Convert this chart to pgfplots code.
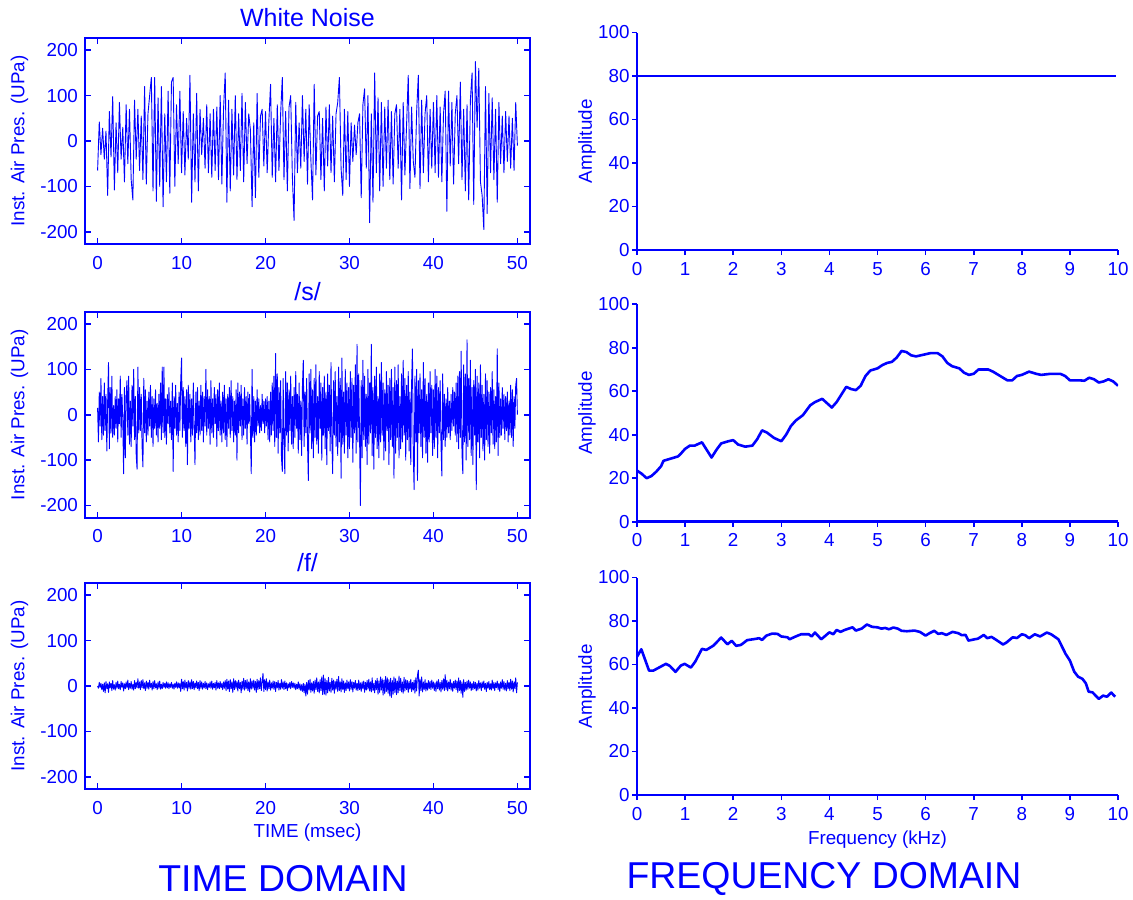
\documentclass[border=0pt]{standalone}
\usepackage{fontspec}
\setmainfont{Liberation Sans}
\usepackage{pgfplots}
\usepackage{pgfplotstable}
\pgfplotsset{compat=1.18}
\definecolor{mb}{RGB}{0,0,255}

% White noise, sampled every 0.2 ms
\pgfplotstableread[row sep=\\]{y\\
-65\\42\\-30\\28\\-40\\22\\-120\\65\\-35\\98\\
-108\\40\\-70\\85\\-40\\30\\-90\\80\\-50\\70\\
-85\\-130\\90\\-40\\70\\-65\\55\\-85\\120\\-95\\
60\\100\\140\\-110\\140\\-133\\95\\-100\\120\\-145\\
60\\-90\\110\\-115\\130\\140\\-100\\80\\-50\\110\\
-70\\65\\-75\\50\\-40\\145\\-135\\60\\-90\\105\\
-110\\70\\-30\\50\\-60\\80\\-70\\60\\-80\\70\\
-65\\75\\-85\\100\\-95\\70\\150\\-135\\90\\-110\\
70\\-75\\100\\-85\\60\\-65\\105\\-90\\85\\-50\\
60\\25\\-145\\40\\-125\\105\\-80\\55\\70\\-55\\
65\\-70\\45\\125\\-80\\50\\-90\\80\\-65\\60\\
140\\-85\\65\\-110\\75\\100\\-80\\-175\\85\\-70\\
40\\-60\\100\\-45\\70\\-95\\80\\-40\\-130\\125\\
-75\\55\\65\\-85\\50\\-110\\75\\-55\\80\\-70\\
55\\-90\\60\\85\\140\\-60\\-120\\70\\-85\\65\\
-100\\40\\-45\\35\\-30\\40\\60\\-125\\80\\115\\
-60\\100\\-180\\60\\-135\\150\\-70\\95\\-110\\85\\
-100\\75\\-60\\90\\-85\\65\\-95\\60\\80\\-60\\
70\\-130\\85\\-75\\35\\145\\-105\\75\\-45\\-80\\
65\\145\\-105\\90\\-70\\60\\100\\-90\\70\\-60\\
85\\-70\\100\\-80\\75\\-90\\60\\110\\-155\\110\\
-55\\85\\-95\\60\\100\\-50\\130\\-85\\70\\-110\\
80\\-130\\90\\150\\-140\\175\\30\\160\\-90\\-120\\
-195\\120\\-160\\105\\-70\\95\\-85\\70\\-135\\85\\
-50\\55\\-70\\65\\-45\\55\\-60\\50\\-65\\85\\
-10\\
}\wn

% /s/, sampled every 0.1 ms
\pgfplotstableread[row sep=\\]{y\\
15\\-60\\50\\-25\\80\\-55\\40\\-45\\70\\-35\\
45\\-80\\30\\115\\-75\\60\\-40\\85\\-50\\20\\
-45\\40\\-30\\55\\-60\\35\\-20\\85\\-50\\45\\
-10\\-130\\60\\-95\\40\\75\\-45\\85\\-65\\30\\
-70\\65\\-25\\100\\-55\\40\\-90\\-120\\105\\-40\\
60\\-35\\45\\-70\\-115\\80\\-40\\55\\-60\\30\\
-45\\50\\-25\\65\\-50\\40\\-70\\35\\-30\\55\\
-45\\25\\-60\\45\\-30\\70\\-55\\105\\-40\\105\\
-50\\35\\-65\\45\\-20\\60\\-40\\30\\-55\\70\\
-125\\40\\-30\\65\\-45\\25\\-60\\50\\-35\\75\\
125\\-50\\60\\-35\\40\\-70\\55\\-110\\65\\-30\\
45\\-60\\35\\-45\\70\\-25\\-110\\50\\-40\\60\\
-55\\30\\-45\\65\\-35\\50\\-60\\40\\-25\\100\\
-45\\55\\-30\\40\\-65\\75\\-40\\35\\-50\\60\\
-20\\45\\-70\\55\\-35\\70\\-45\\30\\-60\\50\\
-40\\65\\-55\\35\\-70\\45\\-30\\60\\-50\\75\\
-35\\40\\-60\\30\\-45\\55\\-100\\70\\-40\\50\\
-25\\65\\-55\\35\\-45\\60\\-30\\40\\-65\\50\\
-20\\45\\-35\\-130\\100\\-50\\40\\-60\\30\\-45\\
55\\-25\\35\\-40\\20\\-35\\45\\-20\\30\\-40\\
35\\-25\\40\\-55\\30\\-60\\50\\-45\\70\\-35\\
85\\-70\\135\\-50\\90\\-85\\60\\-40\\75\\-95\\
-125\\80\\-60\\-130\\95\\-45\\70\\-80\\55\\-35\\
85\\-65\\40\\-75\\60\\-50\\95\\-30\\45\\-85\\
70\\-55\\30\\-90\\65\\120\\-70\\50\\-40\\80\\
-60\\-145\\90\\-40\\100\\-75\\55\\-95\\80\\-50\\
110\\-65\\40\\-85\\95\\-30\\70\\-100\\60\\-45\\
85\\-75\\50\\-110\\90\\-35\\65\\-80\\115\\-55\\
-130\\75\\-45\\95\\-70\\40\\-90\\105\\-60\\80\\
-140\\125\\-65\\50\\-85\\100\\-45\\70\\-95\\60\\
-75\\95\\-50\\80\\-105\\65\\-40\\110\\-85\\155\\
-60\\90\\-45\\-200\\75\\-95\\120\\-55\\85\\-70\\
45\\-110\\100\\-65\\70\\-40\\155\\-90\\60\\-120\\
85\\-50\\105\\-75\\40\\-95\\90\\-60\\115\\-45\\
70\\-100\\55\\-80\\95\\-35\\65\\-110\\80\\-55\\
100\\-70\\60\\-140\\105\\-85\\75\\-50\\110\\-95\\
40\\-75\\90\\-60\\120\\-45\\80\\-100\\65\\-55\\
95\\-80\\50\\-110\\70\\145\\-90\\-165\\85\\-60\\
100\\-145\\75\\-40\\90\\-70\\55\\-95\\115\\-50\\
80\\-85\\45\\-105\\70\\-60\\95\\-40\\65\\-90\\
55\\-75\\100\\-50\\85\\-95\\60\\-40\\75\\-65\\
-135\\90\\-55\\45\\-70\\35\\-50\\60\\-40\\30\\
-55\\45\\-35\\60\\-25\\50\\-45\\70\\-60\\85\\
-75\\95\\-50\\140\\-85\\-130\\110\\-60\\90\\-100\\
165\\-70\\80\\-55\\120\\-90\\60\\-110\\75\\-45\\
100\\-165\\85\\-60\\70\\-95\\110\\-50\\65\\-80\\
45\\-100\\90\\-55\\75\\-70\\50\\-85\\60\\-40\\
95\\-65\\55\\-75\\40\\-60\\145\\-90\\70\\-50\\
35\\-45\\60\\-30\\45\\-55\\40\\-35\\50\\-60\\
30\\-45\\65\\-50\\55\\-70\\40\\-30\\65\\80\\
0\\
}\sss

% /f/, sampled every 0.1 ms
\pgfplotstableread[row sep=\\]{y\\
0\\-5\\8\\-3\\6\\-8\\4\\-12\\7\\-15\\
10\\-6\\5\\-14\\9\\-4\\6\\-10\\12\\-7\\
3\\-9\\8\\-5\\11\\-6\\4\\-8\\10\\-3\\
7\\-11\\5\\-6\\9\\-4\\13\\-8\\6\\-5\\
10\\-7\\4\\-9\\12\\-6\\8\\-4\\16\\-5\\
9\\-8\\12\\-4\\14\\-6\\7\\-10\\11\\-5\\
8\\-7\\13\\-3\\6\\-9\\10\\-6\\12\\-4\\
5\\-8\\9\\-5\\11\\-7\\4\\-6\\8\\-3\\
6\\-5\\9\\-4\\7\\-6\\5\\-3\\8\\-5\\
4\\-7\\6\\-3\\9\\-5\\7\\-4\\6\\-12\\
15\\-6\\10\\-9\\13\\-4\\8\\-11\\12\\-5\\
9\\-7\\14\\-6\\10\\-8\\7\\-4\\11\\-6\\
8\\-10\\12\\-5\\9\\-7\\6\\-4\\10\\-6\\
7\\-8\\5\\-3\\9\\-5\\11\\-7\\6\\-4\\
8\\-9\\12\\-5\\7\\-6\\10\\-4\\6\\-8\\
9\\-5\\12\\-10\\15\\-7\\11\\-12\\14\\-6\\
9\\-14\\16\\-8\\12\\-5\\10\\-11\\13\\-6\\
8\\-15\\11\\-7\\17\\-9\\12\\-6\\14\\-10\\
9\\-13\\16\\-7\\11\\-5\\13\\-9\\10\\-14\\
15\\-8\\12\\-6\\18\\-10\\9\\28\\-12\\14\\
-8\\16\\-11\\9\\-6\\13\\-9\\7\\-5\\11\\
-7\\10\\-12\\8\\-4\\12\\-9\\6\\-7\\14\\
-5\\9\\-8\\11\\-6\\7\\-10\\5\\-4\\8\\
-6\\10\\-3\\7\\-5\\6\\-8\\4\\-6\\9\\
-7\\5\\-10\\3\\-12\\6\\-15\\4\\-22\\8\\
-18\\12\\-9\\15\\-14\\7\\-11\\10\\-16\\13\\
-8\\18\\-12\\9\\-15\\14\\-10\\20\\-19\\24\\
-18\\16\\-20\\12\\-15\\19\\-11\\8\\-14\\17\\
-9\\13\\-16\\10\\-7\\15\\-12\\21\\-10\\9\\
-13\\16\\-8\\11\\-14\\7\\-10\\13\\-6\\9\\
-11\\14\\-7\\10\\-13\\8\\-5\\12\\-9\\6\\
-10\\13\\-8\\7\\-12\\9\\-6\\11\\-14\\8\\
-9\\12\\-7\\15\\-11\\9\\-13\\18\\-10\\6\\
-15\\12\\-8\\17\\-18\\11\\-14\\20\\-9\\16\\
-20\\13\\-17\\21\\-12\\18\\-16\\14\\-22\\17\\
-25\\12\\-18\\20\\-14\\16\\-19\\11\\-15\\22\\
-10\\17\\-13\\9\\-16\\19\\-11\\14\\-8\\12\\
-14\\10\\-7\\15\\-12\\8\\-9\\13\\-16\\18\\
-11\\24\\35\\-22\\15\\-10\\20\\-13\\9\\-8\\
14\\-11\\7\\-9\\12\\-6\\10\\-8\\13\\-5\\
9\\-10\\7\\-12\\11\\-6\\14\\-9\\8\\-13\\
12\\-7\\16\\-10\\25\\-8\\13\\-11\\9\\-6\\
15\\-9\\7\\-12\\10\\-5\\13\\-8\\11\\-14\\
18\\-10\\12\\-16\\9\\-25\\14\\-12\\8\\-9\\
11\\-7\\13\\-5\\9\\-10\\6\\-8\\10\\-6\\
8\\-11\\6\\-9\\12\\-5\\7\\-10\\9\\-4\\
11\\-7\\6\\-12\\8\\-5\\10\\-8\\5\\-9\\
13\\-6\\8\\-10\\7\\-4\\11\\-8\\6\\-12\\
9\\-5\\14\\-7\\10\\-9\\6\\-11\\12\\-6\\
8\\-10\\15\\-7\\11\\-13\\9\\-6\\18\\-15\\
8\\
}\fff

\pgfplotsset{
  base/.style={scale only axis, anchor=south west,
    /pgf/number format/assume math mode=true,
    ticklabel style={font=\fontsize{9.4}{11}\selectfont, text=mb},
    every axis title/.style={font=\fontsize{12.5}{14}\selectfont, text=mb,
      at={(axis description cs:0.5,1)}, anchor=center, yshift=10pt},
    tick style={mb, line width=0.8pt},
  },
  leftax/.style={base, width=222.5pt, height=103pt,
    xmin=-1.5, xmax=51.5, ymin=-227, ymax=227,
    xtick={0,10,20,30,40,50}, ytick={-200,-100,0,100,200},
    tick align=inside, tick pos=both, major tick length=3pt,
    axis line style={mb, line width=1.1pt},
    ylabel={Inst. Air Pres. (UPa)},
    every axis y label/.style={at={(axis description cs:-0.147,0.5)}, rotate=90,
      anchor=center, font=\fontsize{9.4}{11}\selectfont, text=mb},
    every axis x label/.style={at={(axis description cs:0.5,0)},
      anchor=center, yshift=-22pt, font=\fontsize{9.4}{11}\selectfont, text=mb},
    xticklabel shift=2.5pt,
  },
  rightax/.style={base, width=240.5pt, height=108.75pt,
    xmin=0, xmax=10, ymin=0, ymax=100,
    axis lines=left, axis line style={-, mb, line width=1.3pt},
    xtick={0,1,...,10}, ytick={0,20,...,100},
    tick align=outside, major tick length=2.5pt,
    ylabel={Amplitude},
    every axis y label/.style={at={(axis description cs:-0.104,0.5)}, rotate=90,
      anchor=center, font=\fontsize{9.4}{11}\selectfont, text=mb},
    every axis x label/.style={at={(axis description cs:0.5,0)},
      anchor=center, yshift=-22.5pt, font=\fontsize{9.4}{11}\selectfont, text=mb},
    yticklabel style={inner sep=1pt},
  },
  wave/.style={mb, line width=0.45pt, line join=round},
  spec/.style={mb, line width=1.3pt, line join=round},
}

\begin{document}
\begin{tikzpicture}
\path[use as bounding box] (0pt,0pt) rectangle (566.5pt,-449.5pt);

% ---------- Time domain ----------
\begin{axis}[leftax, at={(42.5pt,-122pt)}, title={White Noise}]
\addplot[wave] table[x expr=\coordindex*0.2, y=y]{\wn};
\end{axis}

\begin{axis}[leftax, at={(42.5pt,-258.85pt)}, title={/s/}]
\addplot[wave] table[x expr=\coordindex*0.1, y=y]{\sss};
\end{axis}

\begin{axis}[leftax, at={(42.5pt,-394.5pt)}, title={/f/}, xlabel={TIME (msec)}]
\addplot[wave] table[x expr=\coordindex*0.1, y=y]{\fff};
\end{axis}

% ---------- Frequency domain ----------
\begin{axis}[rightax, at={(318.5pt,-125pt)}]
\addplot[spec] coordinates {(0,80) (9.95,80)};
\end{axis}

\begin{axis}[rightax, at={(318.5pt,-260.85pt)}]
\addplot[spec] coordinates {
(0,23.5) (0.1,22) (0.2,20) (0.3,21) (0.4,23) (0.5,25.5) (0.55,28) (0.7,29)
(0.85,30) (0.9,31) (1.0,33.5) (1.1,35) (1.2,35) (1.35,36.5) (1.45,33)
(1.55,29.5) (1.65,33) (1.75,36) (1.9,37) (2.0,37.5) (2.1,35.5) (2.25,34.5)
(2.4,35) (2.5,38) (2.6,42) (2.7,41) (2.85,38.5) (3.0,37) (3.1,40) (3.2,44)
(3.3,46.5) (3.45,49) (3.6,53.5) (3.7,55) (3.85,56.5) (3.95,54.5) (4.05,52.5)
(4.15,55) (4.25,58.5) (4.35,62) (4.45,61) (4.55,60.5) (4.65,62.5) (4.75,67)
(4.85,69.5) (5.0,70.5) (5.1,72) (5.2,73) (5.3,73.5) (5.4,75.5) (5.5,78.5)
(5.6,78) (5.7,76.5) (5.8,76) (5.9,76.5) (6.0,77) (6.1,77.5) (6.25,77.5)
(6.35,76) (6.45,73) (6.55,71.5) (6.7,70.5) (6.8,68.5) (6.9,67.5) (7.0,68)
(7.1,70) (7.3,70) (7.4,69) (7.55,67) (7.7,65) (7.8,65) (7.9,67) (8.0,67.5)
(8.15,69) (8.3,68) (8.4,67.5) (8.6,68) (8.8,68) (8.9,67) (9.0,65) (9.2,65)
(9.3,64.8) (9.4,66.2) (9.5,65.5) (9.6,64) (9.7,64.5) (9.8,65.5) (9.9,64.5)
(10.0,62.5)};
\end{axis}

\begin{axis}[rightax, at={(318.5pt,-397.5pt)}, xlabel={Frequency (kHz)}]
\addplot[spec] coordinates {
(0,63.6) (0.09,67) (0.25,57.2) (0.34,57.2) (0.6,60.3) (0.68,59.4) (0.8,56.6)
(0.91,59.5) (0.99,60.3) (1.12,58.6) (1.21,61.3) (1.35,67.2) (1.44,66.7)
(1.59,68.7) (1.75,72.4) (1.88,69.3) (1.97,70.9) (2.06,68.6) (2.16,69)
(2.29,71.2) (2.47,71.8) (2.54,72.1) (2.6,71.3) (2.69,73.3) (2.81,74.2)
(2.92,74.1) (3.0,72.9) (3.13,72.5) (3.17,71.6) (3.3,72.9) (3.41,73.9)
(3.57,73.9) (3.63,72.9) (3.7,74.7) (3.83,71.6) (4.0,74.8) (4.08,73.9)
(4.15,75.9) (4.23,75) (4.32,75.9) (4.48,77.1) (4.55,75.6) (4.67,76.5)
(4.78,78.4) (4.89,77.3) (5.0,77.1) (5.08,76.5) (5.16,76.8) (5.24,76.2)
(5.33,77) (5.42,76.5) (5.5,75.5) (5.61,75.3) (5.77,75.6) (5.88,75) (6.0,73.3)
(6.08,74.4) (6.18,75.5) (6.26,74.1) (6.34,74.4) (6.43,73.6) (6.56,75)
(6.68,74.4) (6.75,73.5) (6.83,73.6) (6.89,71) (7.02,71.6) (7.09,71.9)
(7.21,73.6) (7.28,72.1) (7.37,72.7) (7.47,71.3) (7.61,69.2) (7.68,70.1)
(7.81,72.5) (7.9,72.2) (8.0,73.9) (8.07,73.5) (8.15,72.1) (8.27,73.9)
(8.38,72.9) (8.52,74.7) (8.61,73.9) (8.76,71.6) (8.91,64.9) (9.0,61.8)
(9.09,56.7) (9.17,54.4) (9.26,53.4) (9.33,51.4) (9.39,47.5) (9.47,47.2)
(9.6,44.2) (9.69,45.7) (9.77,45.2) (9.86,47.1) (9.94,45.2)};
\end{axis}

\node[text=mb, font=\fontsize{18.7}{22}\selectfont, inner sep=0pt] at (141.5pt,-439.5pt) {TIME DOMAIN};
\node[text=mb, font=\fontsize{18.7}{22}\selectfont, inner sep=0pt] at (412pt,-439.5pt) {FREQUENCY DOMAIN};
\end{tikzpicture}
\end{document}
